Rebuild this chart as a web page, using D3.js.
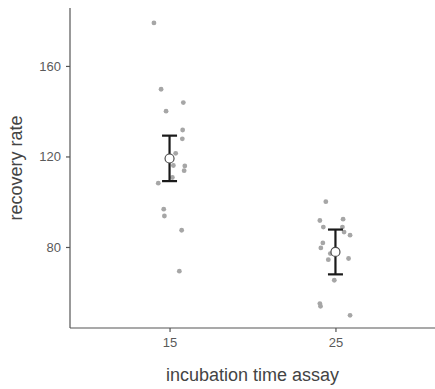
<!DOCTYPE html>
<html>
<head>
<meta charset="utf-8">
<script src="https://cdn.jsdelivr.net/npm/d3@7"></script>
<style>
  html, body { margin: 0; padding: 0; background: #fff; }
  svg { display: block; font-family: "Liberation Sans", Arial, sans-serif; }
</style>
</head>
<body>
<svg id="chart" width="435" height="389"></svg>
<script>
// Incubation groups (x categories)
const groups = ["15", "25"];

// Individual recovery measurements per group
const values15 = [179.0, 149.7, 143.8, 140.0, 131.7, 127.8, 121.4, 116.0, 115.8, 113.7, 110.7, 108.2, 96.7, 93.7, 87.4, 69.3];
const values25 = [100.0, 91.7, 92.3, 88.8, 88.8, 86.6, 85.2, 81.8, 79.6, 77.1, 74.4, 74.9, 65.3, 55.0, 53.8, 49.8];

// Horizontal jitter of each point, as a fraction of the category spacing
const jitter15 = [-0.094, -0.051, 0.083, -0.021, 0.079, 0.077, 0.037, 0.023, 0.092, 0.088, 0.017, -0.068, -0.035, -0.031, 0.073, 0.059];
const jitter25 = [-0.058, -0.094, 0.046, -0.073, 0.042, 0.052, 0.088, -0.076, -0.088, -0.031, -0.043, 0.079, -0.007, -0.094, -0.090, 0.088];

// Group means with error-bar limits
const means = [119.1, 77.8];
const lower = [109.1, 67.9];
const upper = [129.2, 87.7];

// Y tick values
const yTicks = [80, 120, 160];

const svg = d3.select("#chart");
const margin = { top: 8, right: 0, bottom: 61, left: 70 };
const W = 435, H = 389;

const x = d3.scalePoint()
  .domain(groups)
  .range([margin.left, W - margin.right])
  .padding(0.6);
const step = x.step();

const y = d3.scaleLinear()
  .domain([44.2, 185.6])
  .range([H - margin.bottom, margin.top]);

// Axes
const yAxis = svg.append("g")
  .attr("transform", `translate(${margin.left},0)`)
  .call(d3.axisLeft(y).tickValues(yTicks).tickSize(4).tickPadding(5).tickSizeOuter(0));
const xAxis = svg.append("g")
  .attr("transform", `translate(0,${H - margin.bottom})`)
  .call(d3.axisBottom(x).tickSize(4).tickPadding(6).tickSizeOuter(0));

[yAxis, xAxis].forEach(g => {
  g.select(".domain").attr("stroke", "#555").attr("stroke-width", 1.2);
  g.selectAll(".tick line").attr("stroke", "#555").attr("stroke-width", 1.2);
  g.selectAll(".tick text").attr("fill", "#5a5a5a").style("font-size", "13px")
    .style("font-family", "'Liberation Sans', Arial, sans-serif");
});
// extend domain lines across the full panel
yAxis.select(".domain").attr("d", `M0,${y.range()[1]}V${y.range()[0]}`);
xAxis.select(".domain").attr("d", `M${margin.left},0H${W - margin.right}`);

// Raw points
const series = [
  { g: groups[0], v: values15, j: jitter15 },
  { g: groups[1], v: values25, j: jitter25 }
];
series.forEach(s => {
  svg.append("g").selectAll("circle")
    .data(s.v.map((v, i) => ({ v, j: s.j[i] })))
    .join("circle")
    .attr("cx", d => x(s.g) + d.j * step)
    .attr("cy", d => y(d.v))
    .attr("r", 2.4)
    .attr("fill", "#a6a6a6");
});

// Error bars with caps
const eb = svg.append("g").attr("stroke", "#1a1a1a").attr("stroke-width", 2.2);
groups.forEach((g, i) => {
  const cx = x(g);
  const cap = 7.5;
  eb.append("line").attr("x1", cx).attr("x2", cx).attr("y1", y(upper[i])).attr("y2", y(lower[i]));
  eb.append("line").attr("x1", cx - cap).attr("x2", cx + cap).attr("y1", y(upper[i])).attr("y2", y(upper[i]));
  eb.append("line").attr("x1", cx - cap).attr("x2", cx + cap).attr("y1", y(lower[i])).attr("y2", y(lower[i]));
});

// Mean markers
svg.append("g").selectAll("circle")
  .data(groups)
  .join("circle")
  .attr("cx", d => x(d))
  .attr("cy", (d, i) => y(means[i]))
  .attr("r", 4.5)
  .attr("fill", "#fff")
  .attr("stroke", "#4d4d4d")
  .attr("stroke-width", 1.2);

// Axis titles
svg.append("text")
  .attr("x", (margin.left + W - margin.right) / 2)
  .attr("y", 381)
  .attr("text-anchor", "middle")
  .attr("fill", "#444")
  .style("font-size", "18px")
  .text("incubation time assay");

svg.append("text")
  .attr("transform", `translate(22,${(y.range()[0] + y.range()[1]) / 2}) rotate(-90)`)
  .attr("text-anchor", "middle")
  .attr("fill", "#444")
  .style("font-size", "18px")
  .text("recovery rate");
</script>
</body>
</html>
